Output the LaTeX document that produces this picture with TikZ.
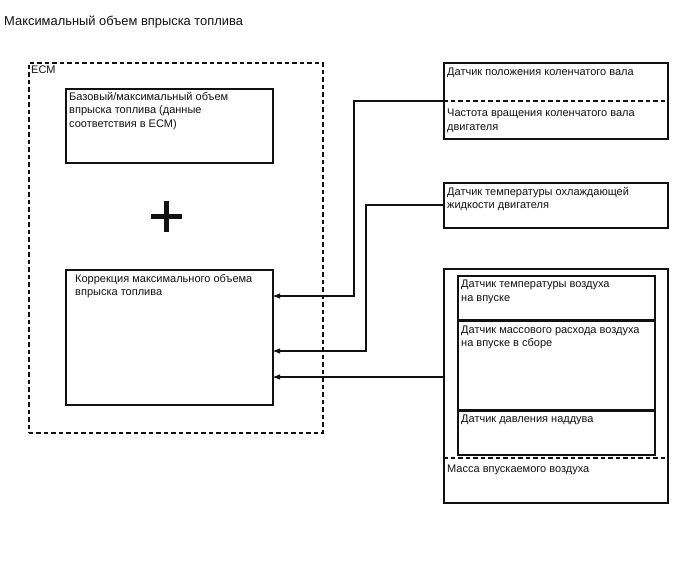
\documentclass[tikz,border=0pt]{standalone}
\usepackage{fontspec}
\setmainfont{Liberation Sans}
\usetikzlibrary{arrows.meta,calc}
\definecolor{cink}{HTML}{111111}

\tikzset{
  box/.style={draw=cink, line width=1.5pt, anchor=north west, inner sep=0pt},
  txt/.style={anchor=north west, inner sep=0pt, align=left, text=cink,
    font=\fontsize{11}{13.5}\selectfont},
  sep/.style={draw=cink, line width=1.5pt, dash pattern=on 4.5pt off 3pt},
  feed/.style={draw=cink, line width=1.5pt, -{Latex[length=8pt,width=5.5pt]}}
}

\begin{document}
\begin{tikzpicture}[x=1pt, y=-1pt]
\useasboundingbox (0,0) rectangle (688,560);
% the title
\node[txt, font=\fontsize{12.9}{15}\selectfont] (title) at (4,16) {Максимальный объем впрыска топлива};
%% ------------------------------------------------------------------ ECM
\node[box, sep, minimum width=294pt, minimum height=370pt] (ecm) at (28,62) {};
\node[txt] (ecmt) at ([shift={(3,4)}]ecm.north west) {ECM};
\node[box, minimum width=207pt, minimum height=74pt] (base) at (65,88) {};
\node[txt] (baset) at ([shift={(4,4)}]base.north west)
  {Базовый/максимальный объем\\впрыска топлива (данные\\соответствия в ECM)};
% the plus between the two maps
\draw[cink, line width=5pt] (150.5,216) -- (181.5,216) (166,200.5) -- (166,231.5);
\node[box, minimum width=207pt, minimum height=135pt] (corr) at (65,269) {};
\node[txt] (corrt) at ([shift={(10,5)}]corr.north west)
  {Коррекция максимального объема\\впрыска топлива};
%% ------------------------------------------------------------------ sensors
\node[box, minimum width=224pt, minimum height=76pt] (crank) at (443,62) {};
\draw[sep] (crank.west) -- (crank.east);
\node[txt] (crankt) at ([shift={(4,6)}]crank.north west) {Датчик положения коленчатого вала};
\node[txt] (speedt) at ([shift={(4,8)}]crank.west) {Частота вращения коленчатого вала\\двигателя};
\node[box, minimum width=224pt, minimum height=45pt] (cool) at (443,182) {};
\node[txt] (coolt) at ([shift={(4,5)}]cool.north west) {Датчик температуры охлаждающей\\жидкости двигателя};
\node[box, minimum width=224pt, minimum height=234pt] (air) at (443,268) {};
\node[box, minimum width=197pt, minimum height=44pt] (iat) at (457,275) {};
\node[box, minimum width=197pt, minimum height=88pt] (maf) at (iat.south west) {};
\node[box, minimum width=197pt, minimum height=44pt] (boost) at (maf.south west) {};
\node[txt] (iatt) at ([shift={(4,5)}]iat.north west) {Датчик температуры воздуха\\на впуске};
\node[txt] (maft) at ([shift={(4,5)}]maf.north west) {Датчик массового расхода воздуха\\на впуске в сборе};
\node[txt] (boostt) at ([shift={(4,5)}]boost.north west) {Датчик давления наддува};
\coordinate (massl) at (443,458);
\coordinate (massr) at (667,458);
\draw[sep] (massl) -- (massr);
\node[txt] (masst) at ([shift={(4,7)}]massl) {Масса впускаемого воздуха};
%% ------------------------------------------------------------------ signals
\coordinate (in1) at (272,296);
\coordinate (in2) at (272,351);
\coordinate (in3) at (272,377);
\coordinate (out2) at (443,205);
\coordinate (out3) at (443,377);
\draw[feed] (crank.west) -| (354,296) -- (in1);
\draw[feed] (out2) -| (366,351) -- (in2);
\draw[feed] (out3) -- (in3);
\end{tikzpicture}
\end{document}
